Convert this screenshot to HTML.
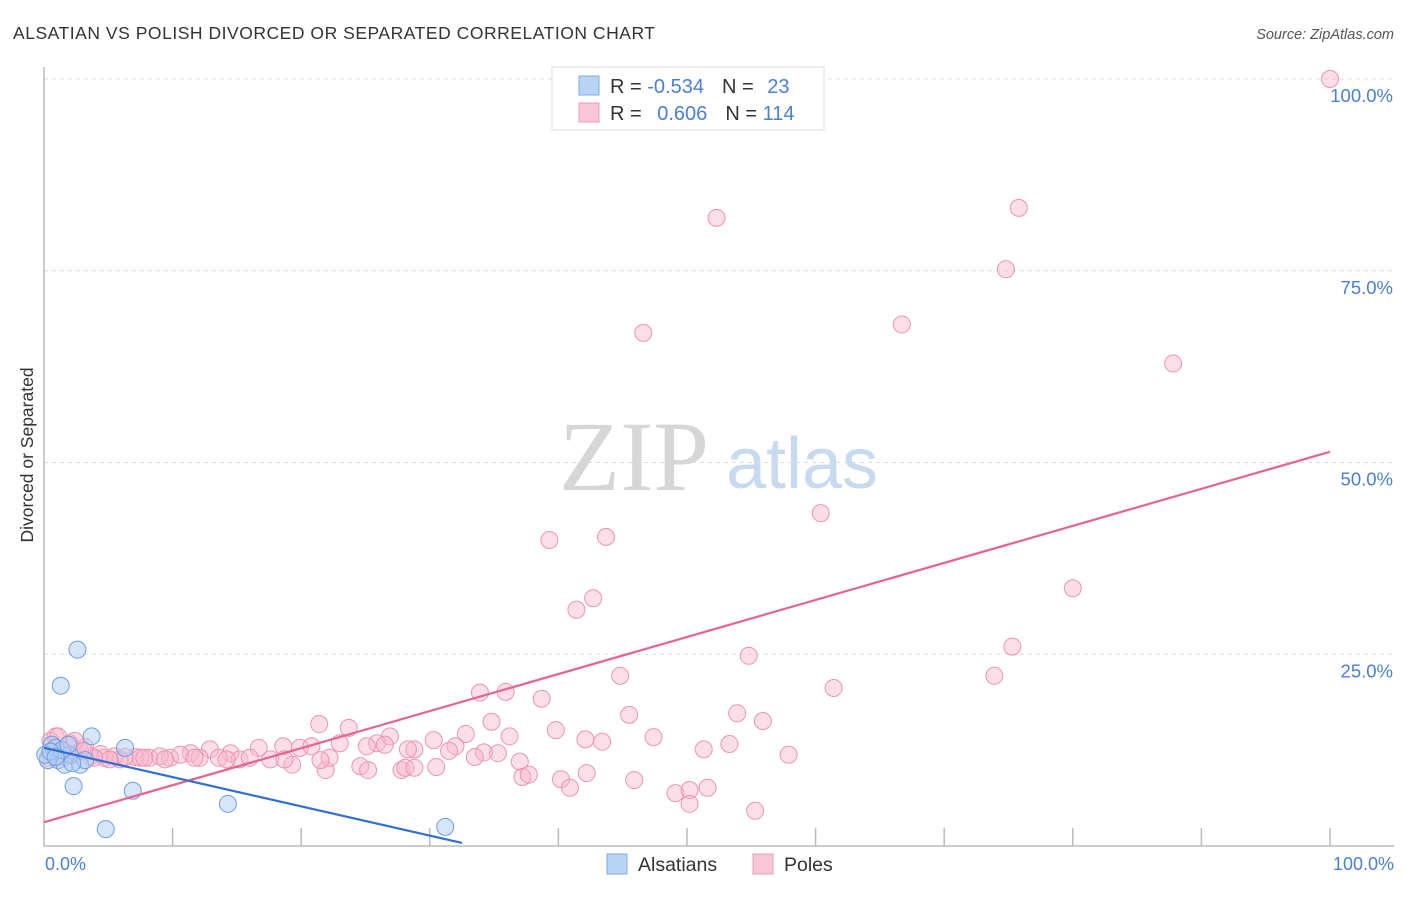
<!DOCTYPE html>
<html><head><meta charset="utf-8">
<style>
body{margin:0;background:#fff;font-family:"Liberation Sans",sans-serif;}
</style></head>
<body>
<svg id="chart" width="1406" height="892" viewBox="0 0 1406 892" xmlns="http://www.w3.org/2000/svg" font-family="Liberation Sans, sans-serif">
<text x="13" y="39" font-size="17.5" fill="#333" textLength="642">ALSATIAN VS POLISH DIVORCED OR SEPARATED CORRELATION CHART</text>
<text x="1394" y="39" font-size="14.5" fill="#555" text-anchor="end" font-style="italic">Source: ZipAtlas.com</text>
<text x="634" y="490" font-size="100" fill="#d6d6d6" text-anchor="middle" style="font-family:'Liberation Serif',serif">ZIP</text>
<text x="802" y="488" font-size="72" fill="#c8daf0" text-anchor="middle">atlas</text>
<g id="grid"></g>
<g id="axes"></g>
<g id="pts"></g>
<g id="lines"></g>
<text transform="translate(33,455) rotate(-90)" font-size="17.5" fill="#333" text-anchor="middle">Divorced or Separated</text>
<text x="45" y="870" font-size="18" fill="#4a7fd4">0.0%</text>
<text x="1394" y="870" font-size="18" fill="#4a7fd4" text-anchor="end">100.0%</text>
<g>
<rect x="552" y="67" width="272" height="63" fill="#fff" stroke="#ddd"/>
<rect x="579" y="76" width="20" height="19" fill="#b9d3f5" stroke="#7fa9e6"/>
<rect x="579" y="103" width="20" height="19" fill="#fac5d6" stroke="#ee9bb6"/>
<text x="610" y="93" font-size="20" fill="#333">R = <tspan fill="#4a7fd4">-0.534</tspan><tspan dx="18">N = </tspan><tspan dx="8" fill="#4a7fd4">23</tspan></text>
<text x="610" y="120" font-size="20" fill="#333">R = <tspan dx="10" fill="#4a7fd4">0.606</tspan><tspan dx="18">N = </tspan><tspan fill="#4a7fd4">114</tspan></text>
</g>
<g>
<rect x="607" y="854" width="20" height="20" fill="#b9d3f5" stroke="#7fa9e6"/>
<text x="638" y="871" font-size="19.5" fill="#333">Alsatians</text>
<rect x="753" y="854" width="20" height="20" fill="#fac5d6" stroke="#ee9bb6"/>
<text x="784" y="871" font-size="19.5" fill="#333">Poles</text>
</g>
</svg>
<script>
const yTicks=[25,50,75,100];
const yTickLabels=["25.0%","50.0%","75.0%","100.0%"];
const xTicks=[10,20,30,40,50,60,70,80,90,100];
const polesX=[100,52.3,75.8,74.8,66.7,46.6,87.8,60.4,39.3,43.7,80,41.4,42.7,75.3,54.8,44.8,73.9,61.4,33.9,35.9,38.7,21.4,45.5,53.9,55.9,23.7,34.8,39.8,47.4,42.1,43.4,32.8,36.2,26.9,32,25.9,53.3,51.3,57.9,28.8,35.3,28.3,34.2,30.3,37,31.5,33.5,25.1,37.2,37.7,40.2,42.2,45.9,40.9,49.1,50.2,51.6,50.2,55.3,24.6,27.8,28.1,28.8,30.5,25.2,21.9,19.3,19.9,20.8,18.6,16.7,14.5,12.9,11.4,9.8,8.2,7.1,5.9,4.7,3.6,2.3,1.2,0.5,0.9,2,2.8,4.4,5.5,6.3,7.5,9,10.6,12.1,13.6,15.2,16,17.6,18.7,22.2,23,26.5,21.5,14.2,11.7,9.4,7.8,5.1,3.9,1.6,0.3,1.1,3.2,2.4,3.1];
const polesY=[100,81.9,83.2,75.2,68,66.9,62.9,43.4,39.9,40.3,33.6,30.8,32.3,26,24.8,22.2,22.2,20.6,20,20.1,19.2,15.9,17.1,17.3,16.3,15.4,16.2,15.1,14.2,13.9,13.6,14.6,14.3,14.3,13,13.4,13.3,12.6,11.9,12.6,12.1,12.6,12.2,13.8,11,12.4,11.6,13,9,9.3,8.7,9.5,8.6,7.6,6.9,7.3,7.6,5.5,4.6,10.4,9.9,10.2,10.2,10.3,9.9,9.9,10.6,12.8,13.0,13.0,12.8,12.1,12.6,12.1,11.5,11.5,11.6,11.3,11.5,11.7,11.9,12.4,13.7,14.3,13.4,12.4,12.0,11.7,11.6,11.5,11.7,11.9,11.5,11.5,11.3,11.5,11.3,11.3,11.5,13.4,13.2,11.2,11.3,11.5,11.3,11.5,11.3,11.5,11.6,11.5,14.3,12.9,13.7,12.4];
const alsX=[2.6,1.3,3.7,6.3,2.3,6.9,4.8,14.3,31.2,0.3,0.6,1.1,1.6,2,2.8,3.2,0.9,1.4,1.9,0.1,0.5,0.9,2.2];
const alsY=[25.6,20.9,14.3,12.8,7.8,7.2,2.2,5.5,2.5,11.2,13.2,11.2,10.6,11.9,10.6,11.2,12.8,12.5,13.2,11.9,12.3,11.6,10.8];
const polesTrend=[3.1,51.4];
const alsTrend=[12.8,0.4,32.5];
const NS="http://www.w3.org/2000/svg";
const X=v=>44+v*12.86, Y=v=>846-v*7.67;
function mk(tag,attrs,parent){const e=document.createElementNS(NS,tag);for(const k in attrs)e.setAttribute(k,attrs[k]);parent.appendChild(e);return e;}
const grid=document.getElementById('grid'),axes=document.getElementById('axes'),pts=document.getElementById('pts'),lines=document.getElementById('lines'),svg=document.getElementById('chart');
yTicks.forEach((t,i)=>{
 const l=mk('line',{x1:44,x2:1394,y1:Y(t),y2:Y(t),stroke:'#ddd','stroke-dasharray':'4,4'},grid);
 
 
 const tx=mk('text',{x:1393,y:Y(t)+23,'font-size':18.5,fill:'#4a7fd4','text-anchor':'end'},svg);
 tx.textContent=yTickLabels[i];
 
 
});
const ax=mk('path',{d:`M44,67 V846 H1394`,stroke:'#bbb',fill:'none','stroke-width':1.5},axes);


xTicks.forEach(t=>{
 const l=mk('line',{x1:X(t),x2:X(t),y1:828,y2:846,stroke:'#bbb','stroke-width':1.5},axes);
 
 
});
polesX.forEach((x,i)=>{
 const c=mk('circle',{cx:X(x),cy:Y(polesY[i]),r:8.5,fill:'rgba(248,182,204,0.45)',stroke:'#eb94b3','stroke-width':1},pts);
 
 
});
alsX.forEach((x,i)=>{
 const c=mk('circle',{cx:X(x),cy:Y(alsY[i]),r:8.5,fill:'rgba(176,204,242,0.5)',stroke:'#6d9ee3','stroke-width':1},pts);
 
 
});
const pl=mk('line',{x1:X(0),y1:Y(polesTrend[0]),x2:X(100),y2:Y(polesTrend[1]),stroke:'#e8628f','stroke-width':2.2},lines);


const bl=mk('line',{x1:X(0),y1:Y(alsTrend[0]),x2:X(alsTrend[2]),y2:Y(alsTrend[1]),stroke:'#2f6fd6','stroke-width':2.2},lines);


</script>
</body></html>
